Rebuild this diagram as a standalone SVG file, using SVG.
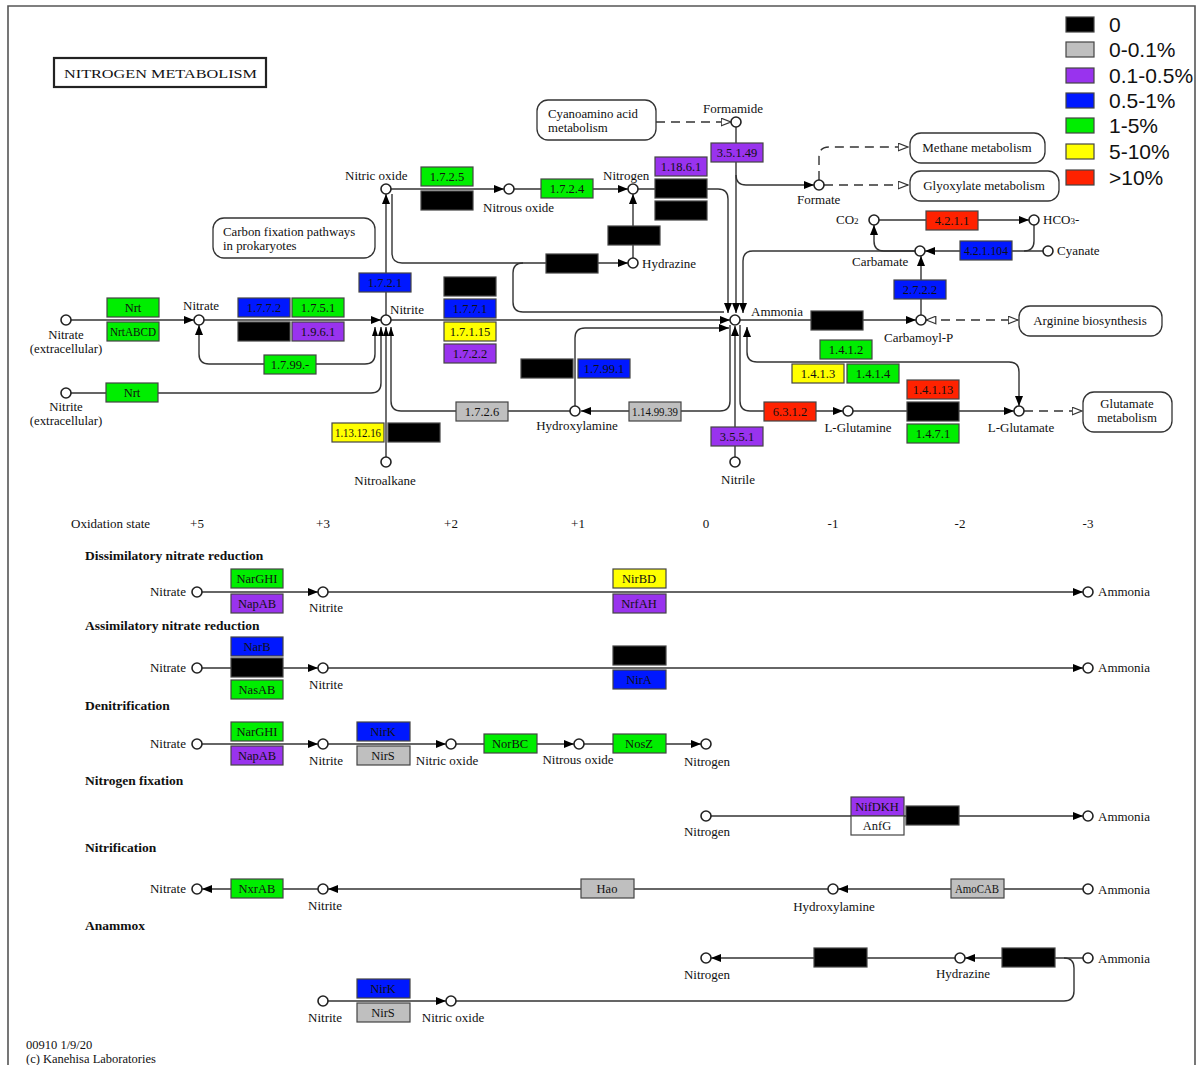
<svg xmlns="http://www.w3.org/2000/svg" width="1197" height="1065" viewBox="0 0 1197 1065">
<defs>
<style>
.ln{fill:none;stroke:#333;stroke-width:1.4}
.ds{fill:none;stroke:#333;stroke-width:1.4;stroke-dasharray:9,6}
.cp{fill:#fff;stroke:#222;stroke-width:1.6}
.bx{stroke:#444;stroke-width:1.2}
.g{fill:#00ee00}.b{fill:#0018ff}.p{fill:#9933ee}.y{fill:#ffff00}.r{fill:#ff2200}.gr{fill:#bfbfbf}.k{fill:#000}.w{fill:#fff}
text{font-family:"Liberation Serif","Times New Roman",serif;font-size:13px;fill:#111}
.et{text-anchor:middle;font-size:12.5px}
.mid{text-anchor:middle}
.end{text-anchor:end}
.two{font-size:12.8px}
.h{font-weight:bold;font-size:13.5px}
.lg{font-family:"Liberation Sans",Arial,sans-serif;font-size:21px}
.mp{fill:#fff;stroke:#333;stroke-width:1.3}
.sub{font-size:9px}
.ft{font-size:12.5px}
</style>
<marker id="a" viewBox="0 0 10 8" refX="10" refY="4" markerWidth="10" markerHeight="8" markerUnits="userSpaceOnUse" orient="auto-start-reverse"><path d="M0,0L10,4L0,8z" fill="#000"/></marker>
<marker id="s" viewBox="0 0 9 6" refX="9" refY="3" markerWidth="9" markerHeight="6" markerUnits="userSpaceOnUse" orient="auto-start-reverse"><path d="M0,0L9,3L0,6z" fill="#000"/></marker>
<marker id="o" viewBox="0 0 11 9" refX="10.5" refY="4.5" markerWidth="11" markerHeight="9" markerUnits="userSpaceOnUse" orient="auto-start-reverse"><path d="M0.7,0.7L10.3,4.5L0.7,8.3z" fill="#fff" stroke="#333" stroke-width="1.2"/></marker>
</defs>
<rect width="1197" height="1065" fill="#fff"/>
<path d="M8,1065V6H1195V1065" fill="none" stroke="#555" stroke-width="1.6"/>

<g id="title"><rect x="54" y="58" width="212" height="29" fill="#fff" stroke="#222" stroke-width="2.2"/><text x="64" y="78" font-size="14" textLength="193" lengthAdjust="spacingAndGlyphs">NITROGEN METABOLISM</text></g>

<g id="legend" class="lg">
<rect x="1066" y="17" width="28" height="15" class="bx k"/><text x="1109" y="32" class="lg">0</text>
<rect x="1066" y="42" width="28" height="15" class="bx gr"/><text x="1109" y="57" class="lg">0-0.1%</text>
<rect x="1066" y="68" width="28" height="15" class="bx p"/><text x="1109" y="83" class="lg">0.1-0.5%</text>
<rect x="1066" y="93" width="28" height="15" class="bx b"/><text x="1109" y="108" class="lg">0.5-1%</text>
<rect x="1066" y="118" width="28" height="15" class="bx g"/><text x="1109" y="133" class="lg">1-5%</text>
<rect x="1066" y="144" width="28" height="15" class="bx y"/><text x="1109" y="159" class="lg">5-10%</text>
<rect x="1066" y="170" width="28" height="15" class="bx r"/><text x="1109" y="185" class="lg">&gt;10%</text>
</g>

<g id="connectors">
<path class="ln" d="M71,320H194" marker-end="url(#a)"/>
<path class="ln" d="M204,320H381" marker-end="url(#a)"/>
<path class="ln" d="M375,327V354Q375,364 365,364H209Q199,364 199,354V325" marker-start="url(#s)" marker-end="url(#a)"/>
<path class="ln" d="M71,393H371Q381,393 381,383V327" marker-end="url(#s)"/>
<path class="ln" d="M386,457V327" marker-end="url(#s)"/>
<path class="ln" d="M570,411H401Q391,411 391,401V327" marker-end="url(#s)"/>
<path class="ln" d="M386,315V194" marker-end="url(#a)"/>
<path class="ln" d="M391,189H504" marker-end="url(#a)"/>
<path class="ln" d="M514,189H628" marker-end="url(#a)"/>
<path class="ln" d="M638,189H718Q728,189 728,199V313" marker-end="url(#a)"/>
<path class="ln" d="M633,258V194" marker-end="url(#a)"/>
<path class="ln" d="M392,194V253Q392,263 402,263H628" marker-end="url(#a)"/>
<path class="ln" d="M724,312H523Q513,312 513,302V273Q513,263 523,263"/>
<path class="ln" d="M736,127V313" marker-end="url(#a)"/>
<path class="ln" d="M736,175Q736,185 746,185H814" marker-end="url(#a)"/>
<path class="ds" d="M656,122H731" marker-end="url(#o)"/>
<path class="ds" d="M819,180V157Q819,147 829,147H908" marker-end="url(#o)"/>
<path class="ds" d="M824,185H908" marker-end="url(#o)"/>
<path class="ln" d="M879,220H1029" marker-end="url(#a)"/>
<path class="ln" d="M1034,225V241Q1034,251 1024,251"/>
<path class="ln" d="M1043,251H925" marker-end="url(#a)"/>
<path class="ln" d="M915,251H884Q874,251 874,241V225" marker-end="url(#a)"/>
<path class="ln" d="M915,251H753Q743,251 743,261V313" marker-end="url(#a)"/>
<path class="ln" d="M921,315V256" marker-end="url(#a)"/>
<path class="ln" d="M740,320H916" marker-end="url(#a)"/>
<path class="ds" d="M926,320H1018" marker-start="url(#o)" marker-end="url(#o)"/>
<path class="ds" d="M1024,411H1082" marker-end="url(#o)"/>
<path class="ln" d="M747,327V352Q747,362 757,362H1009Q1019,362 1019,372V406" marker-start="url(#a)" marker-end="url(#a)"/>
<path class="ln" d="M740,325V401Q740,411 750,411H843" marker-end="url(#a)"/>
<path class="ln" d="M730,325V401Q730,411 720,411H581" marker-end="url(#a)"/>
<path class="ln" d="M735,457V326" marker-end="url(#a)"/>
<path class="ln" d="M853,411H1014" marker-end="url(#a)"/>
<path class="ln" d="M575,406V338Q575,328 585,328H729" marker-end="url(#a)"/>
<path class="ln" d="M391,320H730" marker-end="url(#a)"/>
<path class="ln" d="M202,592H318" marker-end="url(#a)"/>
<path class="ln" d="M328,592H1083" marker-end="url(#a)"/>
<path class="ln" d="M202,668H318" marker-end="url(#a)"/>
<path class="ln" d="M328,668H1083" marker-end="url(#a)"/>
<path class="ln" d="M202,744H318" marker-end="url(#a)"/>
<path class="ln" d="M328,744H446" marker-end="url(#a)"/>
<path class="ln" d="M456,744H574" marker-end="url(#a)"/>
<path class="ln" d="M584,744H701" marker-end="url(#a)"/>
<path class="ln" d="M711,816H1083" marker-end="url(#a)"/>
<path class="ln" d="M1083,889H838" marker-end="url(#a)"/>
<path class="ln" d="M828,889H328" marker-end="url(#a)"/>
<path class="ln" d="M318,889H202" marker-end="url(#a)"/>
<path class="ln" d="M1083,958H965" marker-end="url(#a)"/>
<path class="ln" d="M955,958H711" marker-end="url(#a)"/>
<path class="ln" d="M1064,958Q1074,958 1074,968V991Q1074,1001 1064,1001H456"/>
<path class="ln" d="M328,1001H446" marker-end="url(#a)"/>
</g>

<g id="maps">
<g id="m-cyano"><rect class="mp" x="537" y="100" width="119" height="40" rx="11"/><text class="two" x="548" y="118">Cyanoamino acid</text><text class="two" x="548" y="132">metabolism</text></g>
<g id="m-carbon"><rect class="mp" x="213" y="218" width="162" height="40" rx="11"/><text class="two" x="223" y="236">Carbon fixation pathways</text><text class="two" x="223" y="250">in prokaryotes</text></g>
<g id="m-methane"><rect class="mp" x="910" y="133" width="135" height="30" rx="11"/><text class="mid" x="977" y="152">Methane metabolism</text></g>
<g id="m-glyox"><rect class="mp" x="910" y="171" width="149" height="30" rx="11"/><text class="mid" x="984" y="190">Glyoxylate metabolism</text></g>
<g id="m-arg"><rect class="mp" x="1019" y="306" width="143" height="30" rx="11"/><text class="mid" x="1090" y="325">Arginine biosynthesis</text></g>
<g id="m-glu"><rect class="mp" x="1083" y="392" width="89" height="40" rx="11"/><text class="mid two" x="1127" y="408">Glutamate</text><text class="mid two" x="1127" y="422">metabolism</text></g>
</g>

<g id="enzymes">
<g id="e-nrt1"><rect class="bx g" x="107" y="298" width="52" height="19"/><text class="et" x="133" y="312">Nrt</text></g>
<g id="e-nrtabcd"><rect class="bx g" x="107" y="322" width="52" height="19"/><text class="et" x="133" y="336" textLength="46" lengthAdjust="spacingAndGlyphs">NrtABCD</text></g>
<g id="e-1772"><rect class="bx b" x="238" y="298" width="52" height="19"/><text class="et" x="264" y="312">1.7.7.2</text></g>
<g id="e-1751"><rect class="bx g" x="292" y="298" width="52" height="19"/><text class="et" x="318" y="312">1.7.5.1</text></g>
<g id="e-k1"><rect class="bx k" x="238" y="322" width="52" height="19"/></g>
<g id="e-1961"><rect class="bx p" x="292" y="322" width="52" height="19"/><text class="et" x="318" y="336">1.9.6.1</text></g>
<g id="e-1799x"><rect class="bx g" x="264" y="355" width="52" height="19"/><text class="et" x="290" y="369">1.7.99.-</text></g>
<g id="e-nrt2"><rect class="bx g" x="106" y="383" width="52" height="19"/><text class="et" x="132" y="397">Nrt</text></g>
<g id="e-1721"><rect class="bx b" x="359" y="273" width="52" height="19"/><text class="et" x="385" y="287">1.7.2.1</text></g>
<g id="e-1131216"><rect class="bx y" x="332" y="423" width="52" height="19"/><text class="et" x="358" y="437" textLength="46" lengthAdjust="spacingAndGlyphs">1.13.12.16</text></g>
<g id="e-k2"><rect class="bx k" x="388" y="423" width="52" height="19"/></g>
<g id="e-k3"><rect class="bx k" x="444" y="277" width="52" height="19"/></g>
<g id="e-1771"><rect class="bx b" x="444" y="299" width="52" height="19"/><text class="et" x="470" y="313">1.7.7.1</text></g>
<g id="e-17115"><rect class="bx y" x="444" y="322" width="52" height="19"/><text class="et" x="470" y="336">1.7.1.15</text></g>
<g id="e-1722"><rect class="bx p" x="444" y="344" width="52" height="19"/><text class="et" x="470" y="358">1.7.2.2</text></g>
<g id="e-1725"><rect class="bx g" x="421" y="167" width="52" height="19"/><text class="et" x="447" y="181">1.7.2.5</text></g>
<g id="e-k4"><rect class="bx k" x="421" y="191" width="52" height="19"/></g>
<g id="e-1724"><rect class="bx g" x="541" y="179" width="52" height="19"/><text class="et" x="567" y="193">1.7.2.4</text></g>
<g id="e-11861"><rect class="bx p" x="655" y="157" width="52" height="19"/><text class="et" x="681" y="171">1.18.6.1</text></g>
<g id="e-k5"><rect class="bx k" x="655" y="179" width="52" height="19"/></g>
<g id="e-k6"><rect class="bx k" x="655" y="201" width="52" height="19"/></g>
<g id="e-k7"><rect class="bx k" x="608" y="226" width="52" height="19"/></g>
<g id="e-k8"><rect class="bx k" x="546" y="254" width="52" height="19"/></g>
<g id="e-35149"><rect class="bx p" x="711" y="143" width="52" height="19"/><text class="et" x="737" y="157">3.5.1.49</text></g>
<g id="e-k9"><rect class="bx k" x="521" y="359" width="52" height="19"/></g>
<g id="e-17991"><rect class="bx b" x="578" y="359" width="52" height="19"/><text class="et" x="604" y="373">1.7.99.1</text></g>
<g id="e-1726"><rect class="bx gr" x="456" y="402" width="52" height="19"/><text class="et" x="482" y="416">1.7.2.6</text></g>
<g id="e-1149939"><rect class="bx gr" x="629" y="402" width="52" height="19"/><text class="et" x="655" y="416" textLength="46" lengthAdjust="spacingAndGlyphs">1.14.99.39</text></g>
<g id="e-3551"><rect class="bx p" x="711" y="427" width="52" height="19"/><text class="et" x="737" y="441">3.5.5.1</text></g>
<g id="e-6312"><rect class="bx r" x="764" y="402" width="52" height="19"/><text class="et" x="790" y="416">6.3.1.2</text></g>
<g id="e-1412"><rect class="bx g" x="820" y="340" width="52" height="19"/><text class="et" x="846" y="354">1.4.1.2</text></g>
<g id="e-1413"><rect class="bx y" x="792" y="364" width="52" height="19"/><text class="et" x="818" y="378">1.4.1.3</text></g>
<g id="e-1414"><rect class="bx g" x="847" y="364" width="52" height="19"/><text class="et" x="873" y="378">1.4.1.4</text></g>
<g id="e-14113"><rect class="bx r" x="907" y="380" width="52" height="19"/><text class="et" x="933" y="394">1.4.1.13</text></g>
<g id="e-k10"><rect class="bx k" x="907" y="402" width="52" height="19"/></g>
<g id="e-1471"><rect class="bx g" x="907" y="424" width="52" height="19"/><text class="et" x="933" y="438">1.4.7.1</text></g>
<g id="e-k11"><rect class="bx k" x="811" y="311" width="52" height="19"/></g>
<g id="e-2722"><rect class="bx b" x="894" y="280" width="52" height="19"/><text class="et" x="920" y="294">2.7.2.2</text></g>
<g id="e-4211"><rect class="bx r" x="926" y="211" width="52" height="19"/><text class="et" x="952" y="225">4.2.1.1</text></g>
<g id="e-421104"><rect class="bx b" x="960" y="241" width="52" height="19"/><text class="et" x="986" y="255" textLength="44" lengthAdjust="spacingAndGlyphs">4.2.1.104</text></g>
<g id="e-narghi1"><rect class="bx g" x="231" y="569" width="52" height="19"/><text class="et" x="257" y="583">NarGHI</text></g>
<g id="e-napab1"><rect class="bx p" x="231" y="594" width="52" height="19"/><text class="et" x="257" y="608">NapAB</text></g>
<g id="e-nirbd"><rect class="bx y" x="613" y="569" width="53" height="19"/><text class="et" x="639" y="583">NirBD</text></g>
<g id="e-nrfah"><rect class="bx p" x="613" y="594" width="53" height="19"/><text class="et" x="639" y="608">NrfAH</text></g>
<g id="e-narb"><rect class="bx b" x="231" y="637" width="52" height="19"/><text class="et" x="257" y="651">NarB</text></g>
<g id="e-k12"><rect class="bx k" x="231" y="658" width="52" height="19"/></g>
<g id="e-nasab"><rect class="bx g" x="231" y="680" width="52" height="19"/><text class="et" x="257" y="694">NasAB</text></g>
<g id="e-k13"><rect class="bx k" x="613" y="646" width="53" height="19"/></g>
<g id="e-nira"><rect class="bx b" x="613" y="670" width="53" height="19"/><text class="et" x="639" y="684">NirA</text></g>
<g id="e-narghi2"><rect class="bx g" x="231" y="722" width="52" height="19"/><text class="et" x="257" y="736">NarGHI</text></g>
<g id="e-napab2"><rect class="bx p" x="231" y="746" width="52" height="19"/><text class="et" x="257" y="760">NapAB</text></g>
<g id="e-nirk1"><rect class="bx b" x="357" y="722" width="53" height="19"/><text class="et" x="383" y="736">NirK</text></g>
<g id="e-nirs1"><rect class="bx gr" x="357" y="746" width="53" height="19"/><text class="et" x="383" y="760">NirS</text></g>
<g id="e-norbc"><rect class="bx g" x="484" y="734" width="53" height="19"/><text class="et" x="510" y="748">NorBC</text></g>
<g id="e-nosz"><rect class="bx g" x="613" y="734" width="53" height="19"/><text class="et" x="639" y="748">NosZ</text></g>
<g id="e-nifdkh"><rect class="bx p" x="851" y="797" width="53" height="19"/><text class="et" x="877" y="811">NifDKH</text></g>
<g id="e-anfg"><rect class="bx w" x="851" y="816" width="53" height="19"/><text class="et" x="877" y="830">AnfG</text></g>
<g id="e-k14"><rect class="bx k" x="906" y="806" width="53" height="19"/></g>
<g id="e-nxrab"><rect class="bx g" x="231" y="879" width="52" height="19"/><text class="et" x="257" y="893">NxrAB</text></g>
<g id="e-hao"><rect class="bx gr" x="581" y="879" width="53" height="19"/><text class="et" x="607" y="893">Hao</text></g>
<g id="e-amocab"><rect class="bx gr" x="951" y="879" width="53" height="19"/><text class="et" x="977" y="893" textLength="44" lengthAdjust="spacingAndGlyphs">AmoCAB</text></g>
<g id="e-k15"><rect class="bx k" x="814" y="948" width="53" height="19"/></g>
<g id="e-k16"><rect class="bx k" x="1002" y="948" width="53" height="19"/></g>
<g id="e-nirk2"><rect class="bx b" x="357" y="979" width="53" height="19"/><text class="et" x="383" y="993">NirK</text></g>
<g id="e-nirs2"><rect class="bx gr" x="357" y="1003" width="53" height="19"/><text class="et" x="383" y="1017">NirS</text></g>
</g>

<g id="compounds">
<g id="c-no"><circle class="cp" cx="386" cy="189" r="5"/><text x="345" y="180">Nitric oxide</text></g>
<g id="c-n2o"><circle class="cp" cx="509" cy="189" r="5"/><text x="483" y="212">Nitrous oxide</text></g>
<g id="c-n2"><circle class="cp" cx="633" cy="189" r="5"/><text x="603" y="180">Nitrogen</text></g>
<g id="c-formamide"><circle class="cp" cx="736" cy="122" r="5"/><text x="703" y="113">Formamide</text></g>
<g id="c-formate"><circle class="cp" cx="819" cy="185" r="5"/><text x="797" y="204">Formate</text></g>
<g id="c-co2"><circle class="cp" cx="874" cy="220" r="5"/><text x="836" y="224">CO<tspan class="sub">2</tspan></text></g>
<g id="c-hco3"><circle class="cp" cx="1034" cy="220" r="5"/><text x="1043" y="224">HCO<tspan class="sub">3</tspan>-</text></g>
<g id="c-carbamate"><circle class="cp" cx="920" cy="251" r="5"/><text x="852" y="266">Carbamate</text></g>
<g id="c-cyanate"><circle class="cp" cx="1048" cy="251" r="5"/><text x="1057" y="255">Cyanate</text></g>
<g id="c-hydrazine"><circle class="cp" cx="633" cy="263" r="5"/><text x="642" y="268">Hydrazine</text></g>
<g id="c-nitrateext"><circle class="cp" cx="66" cy="320" r="5"/><text class="mid two" x="66" y="339">Nitrate</text><text class="mid two" x="66" y="353">(extracellular)</text></g>
<g id="c-nitrate"><circle class="cp" cx="199" cy="320" r="5"/><text x="183" y="310">Nitrate</text></g>
<g id="c-nitrite"><circle class="cp" cx="386" cy="320" r="5"/><text x="390" y="314">Nitrite</text></g>
<g id="c-ammonia"><circle class="cp" cx="735" cy="320" r="5"/><text x="751" y="316">Ammonia</text></g>
<g id="c-carbamoylp"><circle class="cp" cx="921" cy="320" r="5"/><text x="884" y="342">Carbamoyl-P</text></g>
<g id="c-nitriteext"><circle class="cp" cx="66" cy="393" r="5"/><text class="mid two" x="66" y="411">Nitrite</text><text class="mid two" x="66" y="425">(extracellular)</text></g>
<g id="c-hydroxylamine"><circle class="cp" cx="575" cy="411" r="5"/><text class="mid" x="577" y="430">Hydroxylamine</text></g>
<g id="c-glutamine"><circle class="cp" cx="848" cy="411" r="5"/><text class="mid" x="858" y="432">L-Glutamine</text></g>
<g id="c-glutamate"><circle class="cp" cx="1019" cy="411" r="5"/><text class="mid" x="1021" y="432">L-Glutamate</text></g>
<g id="c-nitroalkane"><circle class="cp" cx="386" cy="462" r="5"/><text class="mid" x="385" y="485">Nitroalkane</text></g>
<g id="c-nitrile"><circle class="cp" cx="735" cy="462" r="5"/><text class="mid" x="738" y="484">Nitrile</text></g>
</g>

<g id="oxidation">
<text x="71" y="528" font-size="14">Oxidation state</text>
<text class="mid" x="197" y="528">+5</text><text class="mid" x="323" y="528">+3</text><text class="mid" x="451" y="528">+2</text><text class="mid" x="578" y="528">+1</text><text class="mid" x="706" y="528">0</text><text class="mid" x="833" y="528">-1</text><text class="mid" x="960" y="528">-2</text><text class="mid" x="1088" y="528">-3</text>
</g>

<g id="sections">
<text class="h" x="85" y="560">Dissimilatory nitrate reduction</text>
<text class="h" x="85" y="630">Assimilatory nitrate reduction</text>
<text class="h" x="85" y="710">Denitrification</text>
<text class="h" x="85" y="785">Nitrogen fixation</text>
<text class="h" x="85" y="852">Nitrification</text>
<text class="h" x="85" y="930">Anammox</text>
</g>

<g id="bottom-compounds">
<g id="b1-nitrate"><circle class="cp" cx="197" cy="592" r="5"/><text class="end" x="186" y="596">Nitrate</text></g>
<g id="b1-nitrite"><circle class="cp" cx="323" cy="592" r="5"/><text class="mid" x="326" y="612">Nitrite</text></g>
<g id="b1-ammonia"><circle class="cp" cx="1088" cy="592" r="5"/><text x="1098" y="596">Ammonia</text></g>
<g id="b2-nitrate"><circle class="cp" cx="197" cy="668" r="5"/><text class="end" x="186" y="672">Nitrate</text></g>
<g id="b2-nitrite"><circle class="cp" cx="323" cy="668" r="5"/><text class="mid" x="326" y="689">Nitrite</text></g>
<g id="b2-ammonia"><circle class="cp" cx="1088" cy="668" r="5"/><text x="1098" y="672">Ammonia</text></g>
<g id="b3-nitrate"><circle class="cp" cx="197" cy="744" r="5"/><text class="end" x="186" y="748">Nitrate</text></g>
<g id="b3-nitrite"><circle class="cp" cx="323" cy="744" r="5"/><text class="mid" x="326" y="765">Nitrite</text></g>
<g id="b3-no"><circle class="cp" cx="451" cy="744" r="5"/><text class="mid" x="447" y="765">Nitric oxide</text></g>
<g id="b3-n2o"><circle class="cp" cx="579" cy="744" r="5"/><text class="mid" x="578" y="764">Nitrous oxide</text></g>
<g id="b3-n2"><circle class="cp" cx="706" cy="744" r="5"/><text class="mid" x="707" y="766">Nitrogen</text></g>
<g id="b4-n2"><circle class="cp" cx="706" cy="816" r="5"/><text class="mid" x="707" y="836">Nitrogen</text></g>
<g id="b4-ammonia"><circle class="cp" cx="1088" cy="816" r="5"/><text x="1098" y="821">Ammonia</text></g>
<g id="b5-nitrate"><circle class="cp" cx="197" cy="889" r="5"/><text class="end" x="186" y="893">Nitrate</text></g>
<g id="b5-nitrite"><circle class="cp" cx="323" cy="889" r="5"/><text class="mid" x="325" y="910">Nitrite</text></g>
<g id="b5-hydroxylamine"><circle class="cp" cx="833" cy="889" r="5"/><text class="mid" x="834" y="911">Hydroxylamine</text></g>
<g id="b5-ammonia"><circle class="cp" cx="1088" cy="889" r="5"/><text x="1098" y="894">Ammonia</text></g>
<g id="b6-n2"><circle class="cp" cx="706" cy="958" r="5"/><text class="mid" x="707" y="979">Nitrogen</text></g>
<g id="b6-hydrazine"><circle class="cp" cx="960" cy="958" r="5"/><text class="mid" x="963" y="978">Hydrazine</text></g>
<g id="b6-ammonia"><circle class="cp" cx="1088" cy="958" r="5"/><text x="1098" y="963">Ammonia</text></g>
<g id="b7-nitrite"><circle class="cp" cx="323" cy="1001" r="5"/><text class="mid" x="325" y="1022">Nitrite</text></g>
<g id="b7-no"><circle class="cp" cx="451" cy="1001" r="5"/><text class="mid" x="453" y="1022">Nitric oxide</text></g>
</g>

<g id="footer"><text class="ft" x="26" y="1049">00910 1/9/20</text><text class="ft" x="26" y="1063">(c) Kanehisa Laboratories</text></g>
</svg>
